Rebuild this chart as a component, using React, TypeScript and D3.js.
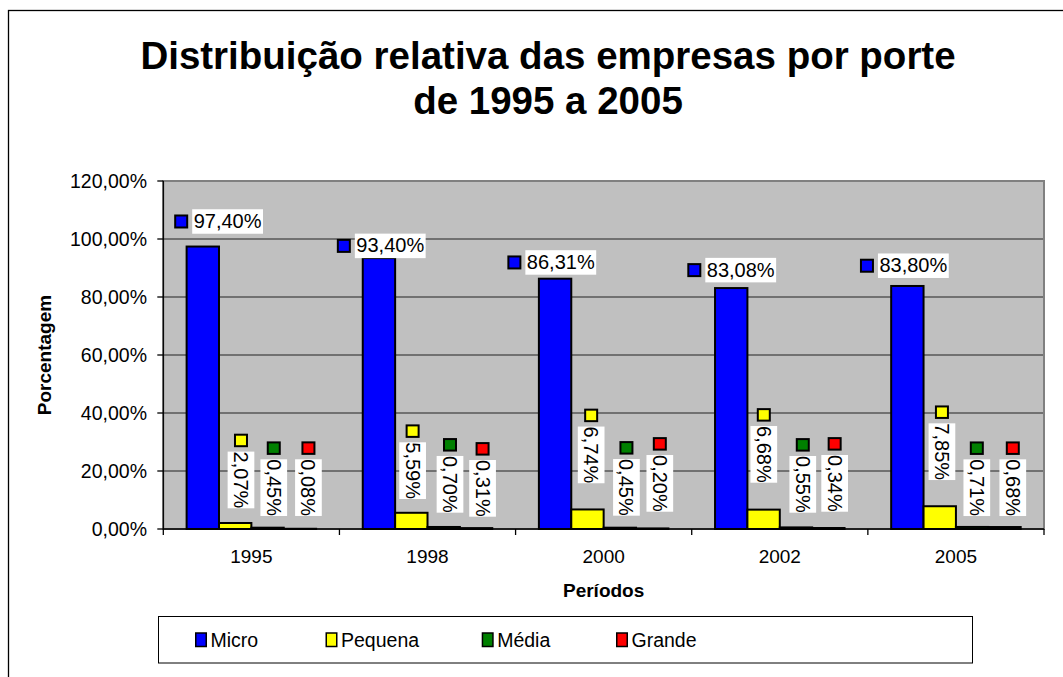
import React from 'react';
import * as d3 from 'd3';

// ---- data ----
const categories = ['1995', '1998', '2000', '2002', '2005'];
const seriesNames = ['Micro', 'Pequena', 'Média', 'Grande'];
const seriesColors = ['#0000FF', '#FFFF00', '#008000', '#FF0000'];
const micro = [97.4, 93.4, 86.31, 83.08, 83.8];
const pequena = [2.07, 5.59, 6.74, 6.68, 7.85];
const media = [0.45, 0.7, 0.45, 0.55, 0.71];
const grande = [0.08, 0.31, 0.2, 0.34, 0.68];
const yTicks = [0, 20, 40, 60, 80, 100, 120];

// ---- label nudges (px, relative to bar top-centre) ----
const microNudge = [[15.8, -12.8], [2.3, 0], [-3.3, -4], [0.5, -5.7], [-3, -8]];
const pequenaNudge = [[5.8, -14.7], [1.3, -13.8], [3.7, -26.2], [0.2, -26.9], [2.2, -26.2]];
const mediaNudge = [[6.2, -11.7], [6.3, -14.3], [6.6, -12], [6.8, -14.7], [4.7, -10.9]];
const grandeNudge = [[8.5, -12.8], [6.5, -11.4], [7.6, -16.7], [6.3, -16.3], [8.3, -11]];

const legendX = [195, 325.5, 481.7, 616];

const FONT = '"Liberation Sans", Arial, Helvetica, sans-serif';

const fmt = (v: number) => v.toFixed(2).replace('.', ',') + '%';
const charW: Record<string, number> = { ',': 0.278, '%': 0.889 };
const textW = (s: string, fs: number) =>
  s.split('').reduce((a, c) => a + (charW[c] ?? 0.556), 0) * fs;

export default function App() {
  const W = 1063;
  const H = 677;
  const plot = { left: 163.3, right: 1044, top: 181, bottom: 529 };

  const x0 = d3.scaleBand<string>().domain(categories).range([plot.left, plot.right]).padding(0);
  const x1 = d3
    .scaleBand<string>()
    .domain(seriesNames)
    .range([0, x0.bandwidth()])
    .paddingInner(0)
    .paddingOuter(0.72);
  const y = d3.scaleLinear().domain([0, 120]).range([plot.bottom, plot.top]);

  const seriesValues = [micro, pequena, media, grande];
  const nudges = [microNudge, pequenaNudge, mediaNudge, grandeNudge];

  const bars: JSX.Element[] = [];
  const labels: JSX.Element[] = [];
  seriesNames.forEach((s, si) => {
    seriesValues[si].forEach((v, ci) => {
      const c = categories[ci];
      const bx = (x0(c) as number) + (x1(s) as number);
      const bw = x1.bandwidth();
      const by = y(v);
      bars.push(
        <rect
          key={`b-${si}-${ci}`}
          x={bx}
          y={by}
          width={bw}
          height={Math.max(0, plot.bottom - by)}
          fill={seriesColors[si]}
          stroke="#000"
          strokeWidth={2}
        />
      );
      const [dx, dy] = nudges[si][ci];
      const cx = bx + bw / 2 + dx;
      const bottom = by + dy;
      const txt = fmt(v);
      const fs = 20;
      const tw = textW(txt, fs);
      if (si === 0) {
        const boxW = tw + 3;
        const boxH = 24.5;
        const total = 14 + 4 + boxW;
        const left = cx - total / 2;
        labels.push(
          <g key={`l-${si}-${ci}`}>
            <rect x={left + 1} y={bottom - boxH / 2 - 6} width={12} height={12} fill={seriesColors[si]} stroke="#000" strokeWidth={2} />
            <rect x={left + 18} y={bottom - boxH} width={boxW} height={boxH} fill="#fff" />
            <text x={left + 19.5} y={bottom - 5.7} fontSize={fs} fontFamily={FONT} fill="#000">
              {txt}
            </text>
          </g>
        );
      } else {
        const boxW = 26.7;
        const boxH = tw;
        const boxTop = bottom - boxH;
        labels.push(
          <g key={`l-${si}-${ci}`}>
            <rect x={cx - 6} y={boxTop - 4.4 - 12.5} width={12} height={11.5} fill={seriesColors[si]} stroke="#000" strokeWidth={2} />
            <rect x={cx - boxW / 2} y={boxTop} width={boxW} height={boxH} fill="#fff" />
            <text
              transform={`translate(${cx - 7},${boxTop}) rotate(90)`}
              fontSize={fs}
              fontFamily={FONT}
              fill="#000"
            >
              {txt}
            </text>
          </g>
        );
      }
    });
  });

  return (
    <svg
      width={W}
      height={H}
      style={{ position: 'absolute', left: 0, top: 0, background: '#fff' }}
      fontFamily={FONT}
    >
      {/* outer chart frame */}
      <rect x={8.5} y={10.5} width={1200} height={800} fill="#fff" stroke="#000" strokeWidth={1.3} />

      {/* title */}
      <text x={548} y={69} textAnchor="middle" fontSize={38.5} fontWeight="bold" fill="#000">
        Distribuição relativa das empresas por porte
      </text>
      <text x={548} y={114} textAnchor="middle" fontSize={38.5} fontWeight="bold" fill="#000">
        de 1995 a 2005
      </text>

      {/* plot area */}
      <rect
        x={plot.left}
        y={plot.top}
        width={plot.right - plot.left}
        height={plot.bottom - plot.top}
        fill="#C0C0C0"
        stroke="#808080"
        strokeWidth={2}
      />
      {yTicks
        .filter((t) => t > 0 && t < 120)
        .map((t) => (
          <line key={`g-${t}`} x1={plot.left} x2={plot.right - 1} y1={y(t)} y2={y(t)} stroke="#222" strokeWidth={1} />
        ))}

      {bars}

      {/* axes */}
      <line x1={plot.left} x2={plot.left} y1={plot.top} y2={plot.bottom} stroke="#000" strokeWidth={1.3} />
      <line x1={plot.left} x2={plot.right} y1={plot.bottom} y2={plot.bottom} stroke="#000" strokeWidth={1.3} />
      {yTicks.map((t) => (
        <g key={`yt-${t}`}>
          <line x1={plot.left - 6} x2={plot.left} y1={y(t)} y2={y(t)} stroke="#000" strokeWidth={1.3} />
          <text x={147} y={y(t) + 7} textAnchor="end" fontSize={19.5} fill="#000">
            {t.toFixed(2).replace('.', ',') + '%'}
          </text>
        </g>
      ))}
      {categories.map((c, i) => (
        <g key={`xt-${c}`}>
          <line
            x1={x0(c) as number}
            x2={x0(c) as number}
            y1={plot.bottom}
            y2={plot.bottom + 6}
            stroke="#000"
            strokeWidth={1.3}
          />
          {i === categories.length - 1 && (
            <line x1={plot.right} x2={plot.right} y1={plot.bottom} y2={plot.bottom + 6} stroke="#000" strokeWidth={1.3} />
          )}
          <text x={(x0(c) as number) + x0.bandwidth() / 2} y={563.3} textAnchor="middle" fontSize={19} fill="#000">
            {c}
          </text>
        </g>
      ))}

      {labels}

      {/* axis titles */}
      <text
        transform={`translate(51,${(plot.top + plot.bottom) / 2}) rotate(-90)`}
        textAnchor="middle"
        fontSize={19}
        fontWeight="bold"
        fill="#000"
      >
        Porcentagem
      </text>
      <text x={(plot.left + plot.right) / 2} y={597} textAnchor="middle" fontSize={19} fontWeight="bold" fill="#000">
        Períodos
      </text>

      {/* legend */}
      <rect x={158.5} y={616.5} width={814} height={46.5} fill="#fff" stroke="#000" strokeWidth={1} />
      {seriesNames.map((s, i) => (
        <g key={`lg-${s}`}>
          <rect x={legendX[i] + 0.75} y={633} width={10.5} height={13.5} fill={seriesColors[i]} stroke="#000" strokeWidth={1.5} />
          <text x={legendX[i] + 15.5} y={646.5} fontSize={19.5} fill="#000">
            {s}
          </text>
        </g>
      ))}
    </svg>
  );
}
